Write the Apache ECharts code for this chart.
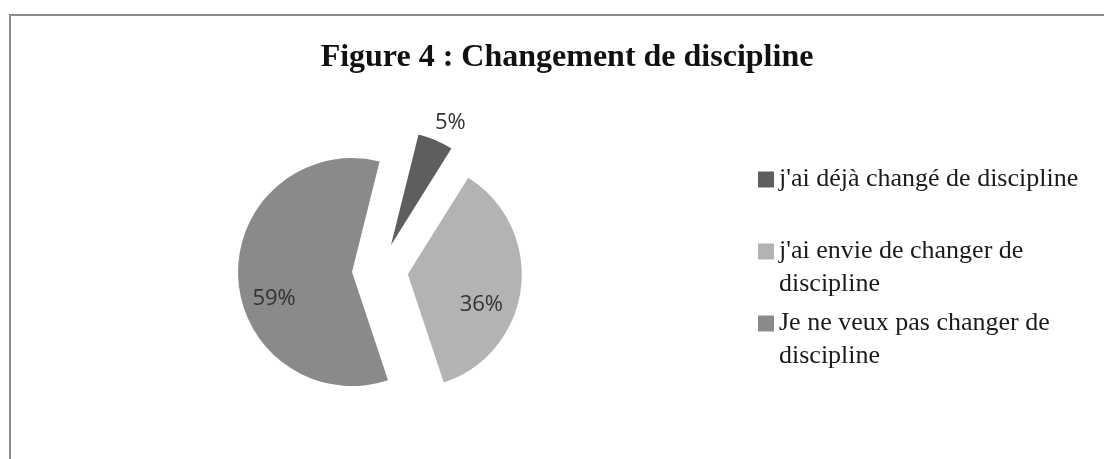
<!DOCTYPE html>
<html>
<head>
<meta charset="utf-8">
<script src="https://cdn.jsdelivr.net/npm/echarts@6/dist/echarts.min.js"></script>
<style>
  html, body { margin: 0; padding: 0; background: #fff; }
  #chart { width: 1104px; height: 459px; }
</style>
</head>
<body>
<div id="chart"></div>
<script>
var titleText = 'Figure 4 : Changement de discipline'
var categories = [
  "j'ai déjà changé de discipline",
  "j'ai envie de changer de\ndiscipline",
  "Je ne veux pas changer de\ndiscipline"
]
var values = [5, 36, 59]
var colors = ['#5e5e5e', '#b3b3b3', '#8a8a8a']

// label nudges so the percentages sit where the original puts them
var labelOffsets = [[36, -67], [14, 23], [-18, 24]]

var chartDom = document.getElementById('chart')
var myChart = echarts.init(chartDom)

var pieData = values.map(function (v, i) {
  return {
    name: categories[i],
    value: v,
    selected: true,
    itemStyle: { color: colors[i] }
  }
})

// tall icon with the square at the top so it lines up with the first text line
var tallIcon = 'path://M0,0M0,8.5L16,8.5L16,24.5L0,24.5ZM16,66'

var legendText = {
  fontFamily: '"Liberation Serif", serif',
  fontSize: 26,
  lineHeight: 33,
  color: '#1a1a1a'
}

var option = {
  backgroundColor: '#fff',
  animation: false,
  title: {
    text: titleText,
    left: 562,
    top: 37,
    textAlign: 'center',
    textStyle: {
      fontFamily: '"Liberation Serif", serif',
      fontWeight: 'bold',
      fontSize: 32,
      color: '#111'
    }
  },
  legend: [
    {
      orient: 'vertical',
      left: 758,
      top: 163,
      padding: 0,
      itemWidth: 16,
      itemHeight: 16,
      icon: 'rect',
      selectedMode: false,
      data: [categories[0]],
      textStyle: legendText
    },
    {
      orient: 'vertical',
      left: 758,
      top: 235,
      padding: 0,
      itemWidth: 16,
      itemHeight: 66,
      itemGap: 6,
      icon: tallIcon,
      selectedMode: false,
      data: [categories[1], categories[2]],
      textStyle: legendText
    }
  ],
  graphic: [
    {
      type: 'polyline',
      silent: true,
      shape: { points: [[10, 470], [10, 15], [1110, 15]] },
      style: { stroke: '#8c8c8c', lineWidth: 2, fill: null }
    }
  ],
  series: [
    {
      type: 'pie',
      center: [380, 271],
      radius: 114,
      startAngle: 76,
      clockwise: true,
      selectedMode: 'multiple',
      selectedOffset: 28,
      avoidLabelOverlap: false,
      label: {
        show: true,
        position: 'inside',
        formatter: '{c}%',
        fontFamily: '"Open Sans", sans-serif',
        fontSize: 22,
        color: '#333'
      },
      labelLayout: function (params) {
        var off = labelOffsets[params.dataIndex]
        return { dx: off[0], dy: off[1] }
      },
      labelLine: { show: false },
      emphasis: { disabled: true },
      data: pieData
    }
  ]
}

option && myChart.setOption(option)

window.addEventListener('resize', function () {
  myChart.resize()
})
</script>
</body>
</html>
